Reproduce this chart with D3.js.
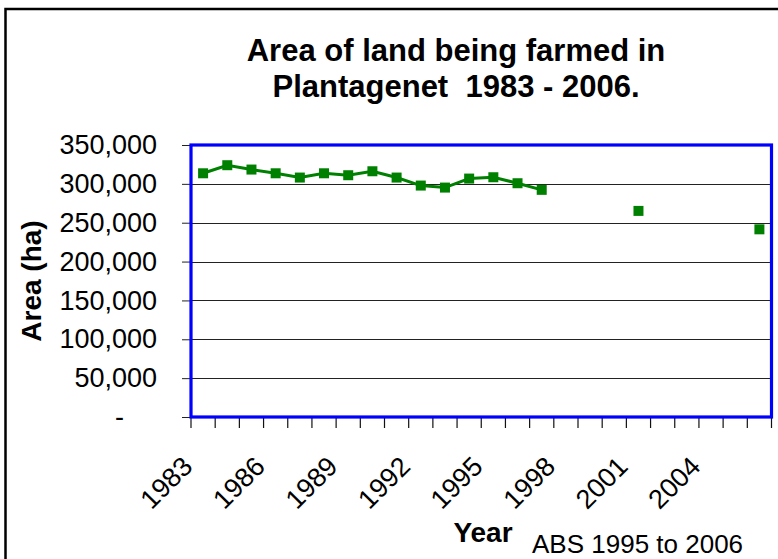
<!DOCTYPE html>
<html>
<head>
<meta charset="utf-8">
<script src="https://cdn.jsdelivr.net/npm/d3@7"></script>
<style>
  html, body { margin: 0; padding: 0; background: #fff; }
  svg { display: block; font-family: "Liberation Sans", Arial, sans-serif; }
</style>
</head>
<body>
<svg id="chart" width="778" height="559"></svg>
<script>
const years = [1983,1984,1985,1986,1987,1988,1989,1990,1991,1992,1993,1994,1995,1996,1997,1998,1999,2000,2001,2002,2003,2004,2005,2006];
const areaHa = [313600,324000,318400,313600,308100,313600,311100,316200,308100,297800,295200,306800,308500,300800,292300,null,null,null,265200,null,null,null,null,241500];
const yTickValues = [0,50000,100000,150000,200000,250000,300000,350000];
const yTickLabels = ["-","50,000","100,000","150,000","200,000","250,000","300,000","350,000"];
const xLabelYears = [1983,1986,1989,1992,1995,1998,2001,2004];
const titleLines = ["Area of land being farmed in", "Plantagenet  1983 - 2006."];

const svg = d3.select("#chart");
const plot = {left: 191, right: 771.5, top: 145, bottom: 417};

// outer chart frame (left/top visible)
svg.append("rect").attr("x", 5.5).attr("y", 9).attr("width", 800).attr("height", 600)
  .attr("fill", "none").attr("stroke", "#000").attr("stroke-width", 2.5);

const x = d3.scaleBand().domain(years).range([plot.left, plot.right]).padding(0);
const y = d3.scaleLinear().domain([0, 350000]).range([plot.bottom, plot.top]);

// gridlines
svg.append("g").selectAll("line").data(yTickValues.filter(v => v > 0 && v < 350000)).join("line")
  .attr("x1", plot.left).attr("x2", plot.right)
  .attr("y1", d => Math.round(y(d)) + 0.5).attr("y2", d => Math.round(y(d)) + 0.5)
  .attr("stroke", "#222").attr("stroke-width", 1);

// y axis
const yAxis = d3.axisLeft(y).tickValues(yTickValues).tickSize(9).tickPadding(25)
  .tickFormat(d => yTickLabels[yTickValues.indexOf(d)]);
const gy = svg.append("g").attr("transform", `translate(${plot.left},0)`).call(yAxis);
gy.select(".domain").remove();
gy.selectAll(".tick line").attr("stroke", "#222");
gy.selectAll(".tick text").attr("font-size", 27).attr("fill", "#000")
  .attr("font-family", "'Liberation Sans', Arial, sans-serif")
  .attr("dx", d => d === 0 ? -33 : 0);

// x axis (ticks at category boundaries)
const boundaries = years.map(yr => x(yr)).concat([plot.right]);
svg.append("g").selectAll("line").data(boundaries).join("line")
  .attr("x1", d => d).attr("x2", d => d).attr("y1", plot.bottom).attr("y2", plot.bottom + 11)
  .attr("stroke", "#111").attr("stroke-width", 1.2);

svg.append("g").selectAll("text").data(xLabelYears).join("text")
  .attr("transform", d => `translate(${x(d) + x.bandwidth() / 2 - 9},${468}) rotate(-45)`)
  .attr("text-anchor", "end").attr("font-size", 27).attr("fill", "#000")
  .text(d => d);

// plot border
svg.append("rect").attr("x", plot.left).attr("y", plot.top)
  .attr("width", plot.right - plot.left).attr("height", plot.bottom - plot.top)
  .attr("fill", "none").attr("stroke", "#0000ff").attr("stroke-width", 3.2);

// line & markers
const pts = years.map((yr, i) => ({year: yr, v: areaHa[i]}));
const line = d3.line().defined(d => d.v !== null)
  .x(d => x(d.year) + x.bandwidth() / 2).y(d => y(d.v));
svg.append("path").datum(pts).attr("d", line)
  .attr("fill", "none").attr("stroke", "#008000").attr("stroke-width", 3);
svg.append("g").selectAll("rect").data(pts.filter(d => d.v !== null)).join("rect")
  .attr("x", d => x(d.year) + x.bandwidth() / 2 - 5).attr("y", d => y(d.v) - 5)
  .attr("width", 10).attr("height", 10).attr("fill", "#008000");

// title
svg.append("g").selectAll("text").data(titleLines).join("text")
  .attr("x", 456).attr("y", (d, i) => 60.5 + i * 36)
  .attr("text-anchor", "middle").attr("font-size", 31).attr("font-weight", "bold")
  .style("white-space", "pre").text(d => d);

// axis titles
svg.append("text").attr("transform", "translate(41,281) rotate(-90)")
  .attr("text-anchor", "middle").attr("font-size", 28).attr("font-weight", "bold").text("Area (ha)");
svg.append("text").attr("x", 483).attr("y", 542).attr("text-anchor", "middle")
  .attr("font-size", 28).attr("font-weight", "bold").text("Year");
svg.append("text").attr("x", 532).attr("y", 553).attr("font-size", 26).text("ABS 1995 to 2006");
</script>
</body>
</html>
